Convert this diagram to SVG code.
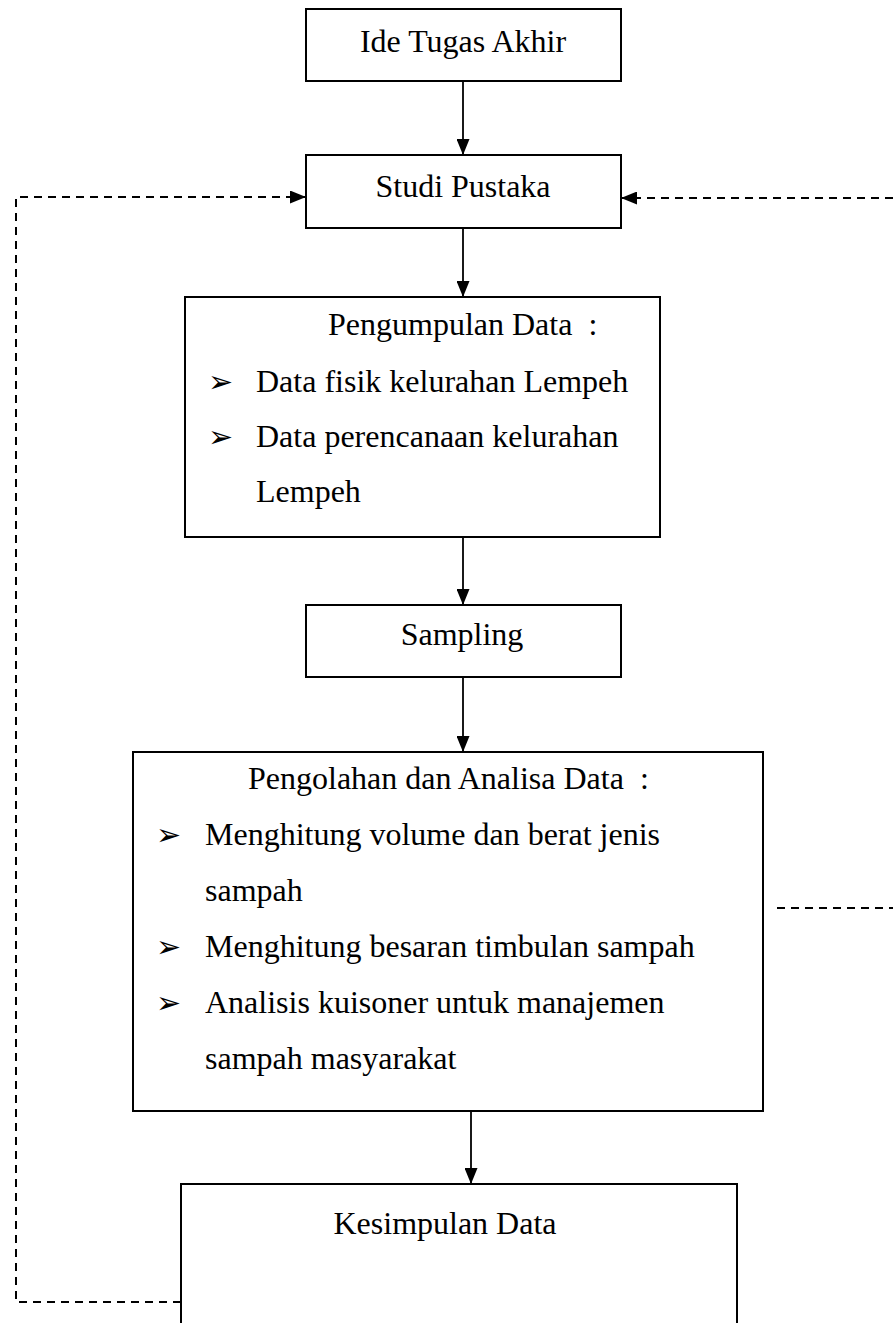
<svg xmlns="http://www.w3.org/2000/svg" width="893" height="1323" viewBox="0 0 893 1323">
<style>
.box{fill:#fff;stroke:#000;stroke-width:2}
.t{font-family:"Liberation Serif","Times New Roman",serif;font-size:32px;fill:#000}
.c{text-anchor:middle}
.b{font-family:"DejaVu Sans",sans-serif;font-size:30px;fill:#000}
.ln{fill:none;stroke:#000;stroke-width:1.8}
.dash{fill:none;stroke:#000;stroke-width:2;stroke-dasharray:8 6}
</style>
<defs>
<marker id="ah" markerUnits="userSpaceOnUse" markerWidth="16" markerHeight="13" refX="16" refY="6.5" orient="auto">
<path d="M0,0 L16,6.5 L0,13 z" fill="#000"/>
</marker>
</defs>
<rect width="893" height="1323" fill="#fff"/>
<g id="connectors">
<path class="ln" d="M463,81 V155" marker-end="url(#ah)"/>
<path class="ln" d="M463,228 V297" marker-end="url(#ah)"/>
<path class="ln" d="M463,537 V605" marker-end="url(#ah)"/>
<path class="ln" d="M463,677 V752" marker-end="url(#ah)"/>
<path class="ln" d="M471,1111 V1184" marker-end="url(#ah)"/>
<path class="dash" d="M181,1302 H16 V197 H306" marker-end="url(#ah)"/>
<path class="dash" d="M893,198 H621" marker-end="url(#ah)"/>
<path class="dash" d="M777,908 H893"/>
</g>
<g id="ide">
<rect class="box" x="306" y="9" width="315" height="72"/>
<text class="t c" x="463" y="52">Ide Tugas Akhir</text>
</g>
<g id="studi">
<rect class="box" x="306" y="155" width="315" height="73"/>
<text class="t c" x="463" y="197">Studi Pustaka</text>
</g>
<g id="pengumpulan">
<rect class="box" x="185" y="297" width="475" height="240"/>
<text class="t" x="328" y="335">Pengumpulan Data &#160;:</text>
<text class="b" x="208" y="392">➢</text>
<text class="t" x="256" y="392">Data fisik kelurahan Lempeh</text>
<text class="b" x="208" y="447">➢</text>
<text class="t" x="256" y="447">Data perencanaan kelurahan</text>
<text class="t" x="256" y="502">Lempeh</text>
</g>
<g id="sampling">
<rect class="box" x="306" y="605" width="315" height="72"/>
<text class="t c" x="462" y="645">Sampling</text>
</g>
<g id="pengolahan">
<rect class="box" x="133" y="752" width="630" height="359"/>
<text class="t" x="248" y="789">Pengolahan dan Analisa Data &#160;:</text>
<text class="b" x="156" y="845">➢</text>
<text class="t" x="205" y="845">Menghitung volume dan berat jenis</text>
<text class="t" x="205" y="901">sampah</text>
<text class="b" x="156" y="957">➢</text>
<text class="t" x="205" y="957">Menghitung besaran timbulan sampah</text>
<text class="b" x="156" y="1013">➢</text>
<text class="t" x="205" y="1013">Analisis kuisoner untuk manajemen</text>
<text class="t" x="205" y="1069">sampah masyarakat</text>
</g>
<g id="kesimpulan">
<rect class="box" x="181" y="1184" width="556" height="160"/>
<text class="t c" x="445" y="1234">Kesimpulan Data</text>
</g>
</svg>
